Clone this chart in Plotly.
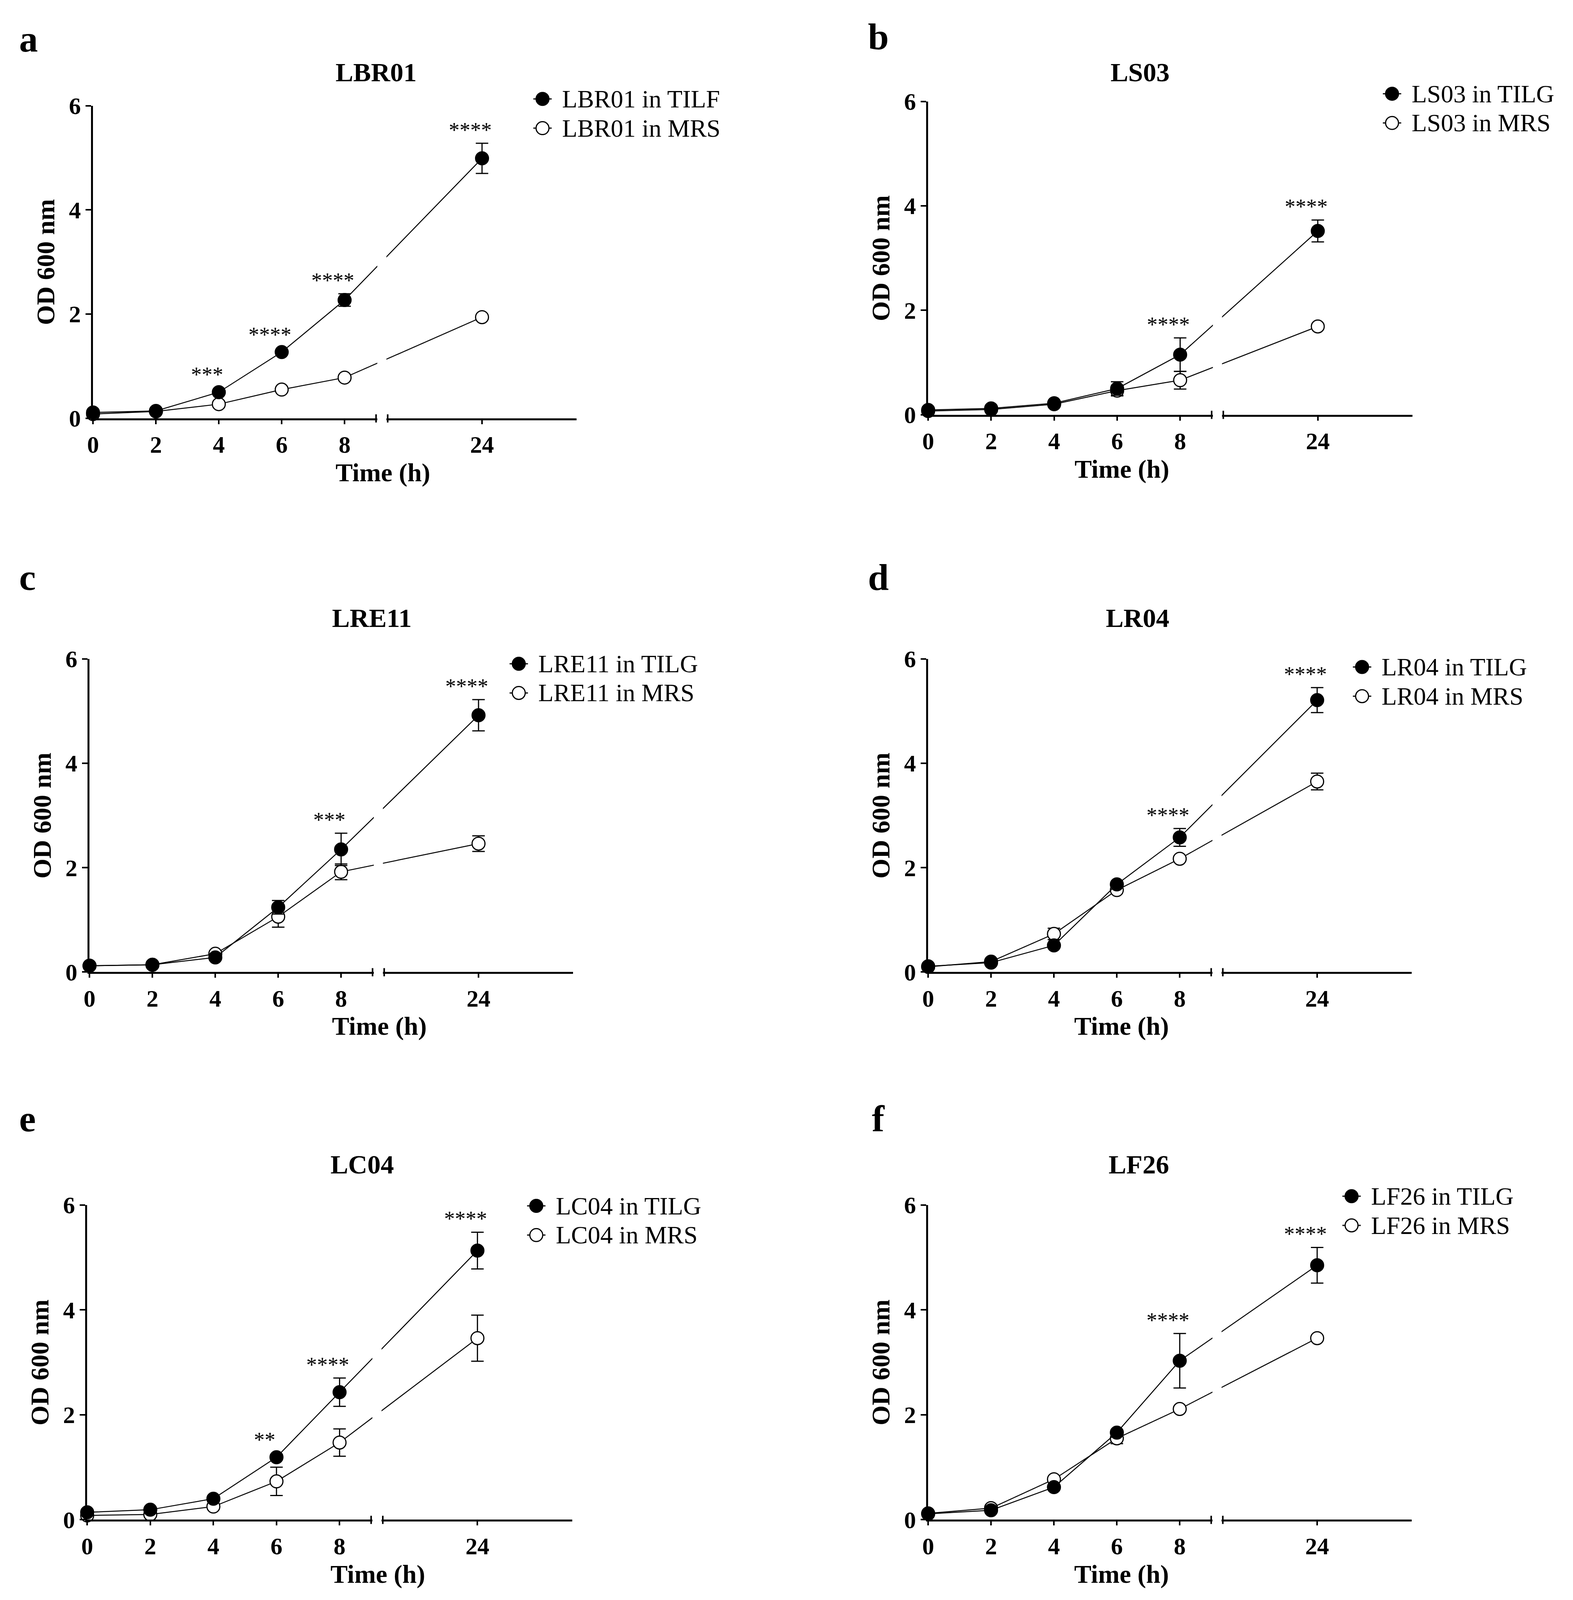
import plotly.graph_objects as go

# The reference is 4027 x 4858; the captured page only shows ~4100 px of height,
# so the figure keeps the reference layout in paper fractions but is drawn shorter.
W, REF_H = 4027, 4858
H = 4090
SY = H / REF_H          # vertical pixel scale
FS = 0.92               # font / marker scale
SERIF = "Liberation Serif"

# ---- data (OD 600 nm, mean and SD) ----
time_h = [0, 2, 4, 6, 8, 24]
tick_times = [0, 2, 4, 6, 8, 24]
y_ticks = [0, 2, 4, 6]

strains = ["LBR01", "LS03", "LRE11", "LR04", "LC04", "LF26"]
media = ["TILF", "TILG", "TILG", "TILG", "TILG", "TILG"]
letters = ["a", "b", "c", "d", "e", "f"]

lbr01_til = [0.11, 0.14, 0.50, 1.27, 2.27, 4.99]
lbr01_til_sd = [0.02, 0.02, 0.03, 0.04, 0.12, 0.29]
lbr01_mrs = [0.08, 0.13, 0.27, 0.55, 0.78, 1.94]
lbr01_mrs_sd = [0.01, 0.01, 0.02, 0.03, 0.03, 0.05]
lbr01_stars = {4: "***", 6: "****", 8: "****", 24: "****"}

ls03_til = [0.09, 0.12, 0.22, 0.50, 1.15, 3.52]
ls03_til_sd = [0.01, 0.02, 0.03, 0.13, 0.32, 0.21]
ls03_mrs = [0.07, 0.10, 0.20, 0.46, 0.66, 1.69]
ls03_mrs_sd = [0.01, 0.01, 0.02, 0.10, 0.17, 0.05]
ls03_stars = {8: "****", 24: "****"}

lre11_til = [0.12, 0.14, 0.28, 1.24, 2.35, 4.92]
lre11_til_sd = [0.01, 0.01, 0.03, 0.13, 0.31, 0.30]
lre11_mrs = [0.12, 0.14, 0.35, 1.06, 1.92, 2.46]
lre11_mrs_sd = [0.01, 0.01, 0.03, 0.20, 0.15, 0.15]
lre11_stars = {8: "***", 24: "****"}

lr04_til = [0.11, 0.18, 0.51, 1.68, 2.58, 5.21]
lr04_til_sd = [0.01, 0.02, 0.03, 0.05, 0.17, 0.24]
lr04_mrs = [0.10, 0.20, 0.73, 1.57, 2.17, 3.65]
lr04_mrs_sd = [0.01, 0.02, 0.11, 0.04, 0.05, 0.16]
lr04_stars = {8: "****", 24: "****"}

lc04_til = [0.14, 0.19, 0.40, 1.19, 2.43, 5.13]
lc04_til_sd = [0.01, 0.02, 0.03, 0.05, 0.27, 0.35]
lc04_mrs = [0.08, 0.10, 0.25, 0.73, 1.47, 3.46]
lc04_mrs_sd = [0.01, 0.01, 0.03, 0.27, 0.26, 0.44]
lc04_stars = {6: "**", 8: "****", 24: "****"}

lf26_til = [0.11, 0.18, 0.62, 1.66, 3.03, 4.85]
lf26_til_sd = [0.01, 0.02, 0.04, 0.05, 0.52, 0.34]
lf26_mrs = [0.12, 0.22, 0.77, 1.55, 2.11, 3.46]
lf26_mrs_sd = [0.01, 0.03, 0.04, 0.10, 0.05, 0.04]
lf26_stars = {8: "****", 24: "****"}

til_all = [lbr01_til, ls03_til, lre11_til, lr04_til, lc04_til, lf26_til]
til_sd_all = [lbr01_til_sd, ls03_til_sd, lre11_til_sd, lr04_til_sd, lc04_til_sd, lf26_til_sd]
mrs_all = [lbr01_mrs, ls03_mrs, lre11_mrs, lr04_mrs, lc04_mrs, lf26_mrs]
mrs_sd_all = [lbr01_mrs_sd, ls03_mrs_sd, lre11_mrs_sd, lr04_mrs_sd, lc04_mrs_sd, lf26_mrs_sd]
stars_all = [lbr01_stars, ls03_stars, lre11_stars, lr04_stars, lc04_stars, lf26_stars]

# ---- broken time axis: 0-9 h | gap | 21-27 h ----
BREAK_AT = 9.0
RESUME_AT = 21.0
GAP = 0.37
X_END = 27.0


def xpos(t):
    return t if t <= BREAK_AT else t - RESUME_AT + BREAK_AT + GAP


X_RANGE = [0, xpos(X_END)]

# plot boxes in reference pixels: left, top, right, bottom
boxes = [(224, 287, 1466, 1253), (2370, 274, 3614, 1242),
         (215, 1997, 1457, 2965), (2370, 1997, 3612, 2965),
         (209, 3685, 1455, 4658), (2370, 3685, 3612, 4658)]
title_y = [184, 184, 1870, 1870, 3560, 3560]
letter_pos = [(58, 80), (2242, 73), (56, 1744), (2242, 1744), (56, 3418), (2242, 3418)]
legend_pos = [(1379, 266), (3562, 250), (1318, 2012),
              (3485, 2022), (1363, 3688), (3458, 3658)]
LEGEND_STEP = 76        # figure pixels between legend rows


def px(x):
    return x / W


def py(y):
    return 1 - y / REF_H


fig = go.Figure()
annotations = []
shapes = []
mk = round(36 * FS)

for i in range(6):
    n = "" if i == 0 else str(i + 1)
    xa, ya = "x" + n, "y" + n
    left, top, right, bottom = boxes[i]
    xs = [xpos(t) for t in time_h]

    for vals, sd, fill in [(mrs_all[i], mrs_sd_all[i], "white"),
                           (til_all[i], til_sd_all[i], "black")]:
        fig.add_trace(go.Scatter(
            x=xs, y=vals, mode="lines+markers",
            error_y=dict(type="data", array=sd, color="black", thickness=3, width=16),
            line=dict(color="black", width=2.5),
            marker=dict(size=mk, color=fill, line=dict(color="black", width=3)),
            xaxis=xa, yaxis=ya, cliponaxis=False, showlegend=False))

    axis_font = dict(family=SERIF, size=round(66 * FS), color="black", weight="bold")
    fig.layout["xaxis" + n] = dict(
        domain=[px(left), px(right)], range=X_RANGE, anchor=ya,
        tickvals=[xpos(t) for t in tick_times], ticktext=[str(t) for t in tick_times],
        showline=True, linewidth=5, linecolor="black", ticks="outside",
        ticklen=10, tickwidth=4, tickcolor="black", tickfont=axis_font,
        showgrid=False, zeroline=False, fixedrange=True)
    fig.layout["yaxis" + n] = dict(
        domain=[py(bottom), py(top)], range=[0, 6], anchor=xa,
        tickvals=y_ticks, showline=True, linewidth=5, linecolor="black",
        ticks="outside", ticklen=14, tickwidth=4, tickcolor="black",
        tickfont=axis_font, showgrid=False, zeroline=False, fixedrange=True)

    # axis break: white gap over axis line and curves, plus break marks
    def to_paper_x(v):
        return px(left) + (v - X_RANGE[0]) / (X_RANGE[1] - X_RANGE[0]) * (px(right) - px(left))

    gx0, gx1 = to_paper_x(xpos(BREAK_AT)), to_paper_x(BREAK_AT + GAP)
    shapes.append(dict(type="rect", xref="paper", yref="paper", layer="above",
                       x0=gx0 + 0.0008, x1=gx1 - 0.0008, y0=py(bottom + 12), y1=py(top),
                       fillcolor="white", line=dict(width=0)))
    for gx in (gx0, gx1):
        shapes.append(dict(type="line", xref="paper", yref="paper", layer="above",
                           ysizemode="pixel", yanchor=py(bottom), x0=gx, x1=gx,
                           y0=-11, y1=10, line=dict(color="black", width=4)))

    # significance stars
    for t, s in stars_all[i].items():
        k = time_h.index(t)
        v, e = til_all[i][k], til_sd_all[i][k]
        annotations.append(dict(
            xref=xa, yref=ya, x=xpos(t), y=max(v + e, v + 0.08), text=s,
            showarrow=False, yanchor="bottom", xshift=-30, yshift=2,
            font=dict(family=SERIF, size=round(60 * FS), color="black")))

    # titles and labels
    cx = px((left + right) / 2)
    annotations.append(dict(xref="paper", yref="paper", x=cx, y=py(title_y[i]),
                            text=strains[i], showarrow=False, yanchor="middle",
                            font=dict(family=SERIF, size=round(74 * FS), color="black", weight="bold")))
    annotations.append(dict(xref="paper", yref="paper", x=cx, y=py(bottom + 168),
                            text="Time (h)", showarrow=False, yanchor="middle",
                            font=dict(family=SERIF, size=round(72 * FS), color="black", weight="bold")))
    annotations.append(dict(xref="paper", yref="paper", x=px(left - 122), y=py((top + bottom) / 2),
                            text="OD 600 nm", showarrow=False, textangle=-90,
                            xanchor="center", yanchor="middle",
                            font=dict(family=SERIF, size=round(72 * FS), color="black", weight="bold")))
    lx, ly = letter_pos[i]
    annotations.append(dict(xref="paper", yref="paper", x=px(lx), y=py(ly),
                            text=letters[i], showarrow=False, xanchor="center", yanchor="middle",
                            font=dict(family=SERIF, size=round(104 * FS), color="black", weight="bold")))

    # legend (drawn by hand so the symbols keep the plotted marker size)
    gx, gy = legend_pos[i]
    r_px = mk / 2
    for r, (label, fill) in enumerate([(f"{strains[i]} in {media[i]}", "black"),
                                       (f"{strains[i]} in MRS", "white")]):
        yy = py(gy) - r * LEGEND_STEP / H
        shapes.append(dict(type="line", xref="paper", yref="paper", xsizemode="pixel",
                           xanchor=px(gx), x0=-r_px - 7, x1=r_px + 7, y0=yy, y1=yy,
                           line=dict(color="black", width=3)))
        shapes.append(dict(type="circle", xref="paper", yref="paper",
                           xsizemode="pixel", ysizemode="pixel",
                           xanchor=px(gx), yanchor=yy,
                           x0=-r_px, x1=r_px, y0=-r_px, y1=r_px,
                           fillcolor=fill, line=dict(color="black", width=3)))
        annotations.append(dict(xref="paper", yref="paper", x=px(gx + 48), y=yy,
                                text=label, showarrow=False, xanchor="left", yanchor="middle",
                                font=dict(family=SERIF, size=round(70 * FS), color="black")))

fig.update_layout(
    width=W, height=H, margin=dict(l=0, r=0, t=0, b=0),
    paper_bgcolor="white", plot_bgcolor="white",
    annotations=annotations, shapes=shapes, showlegend=False)

fig.write_html("out.html", config={"displayModeBar": False},
               post_script="document.body.style.margin = '0';")
